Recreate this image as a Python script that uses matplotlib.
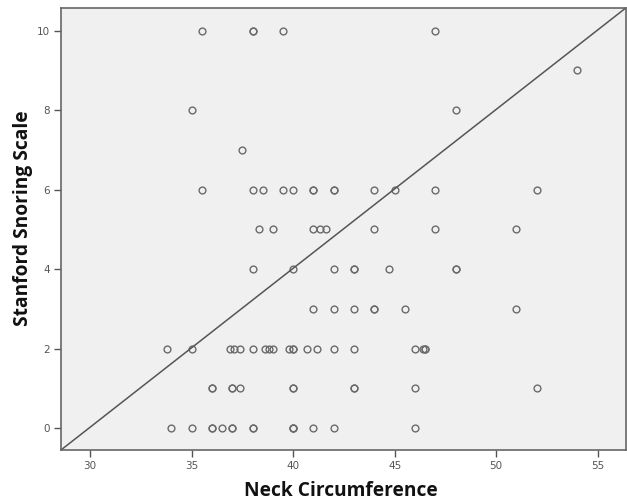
import numpy as np
import matplotlib
matplotlib.use("Agg")
import matplotlib.pyplot as plt

# neck circumference (cm) and Stanford snoring scale
neck_10 = [35.5, 38, 38, 39.5, 47]
neck_9 = [54]
neck_8 = [35, 48]
neck_7 = [37.5]
neck_6 = [35.5, 38, 38.5, 39.5, 40, 41, 41, 42, 42, 44, 45, 47, 52]
neck_5 = [38.3, 39, 41, 41.3, 41.6, 44, 47, 51]
neck_4 = [38, 40, 42, 43, 43, 44.7, 48, 48]
neck_3 = [41, 42, 43, 44, 44, 45.5, 51]
neck_2 = [33.8, 35, 36.9, 37.1, 37.4, 38, 38.6, 38.8, 39, 39.8, 40, 40,
          40.7, 41.2, 42, 43, 46, 46.4, 46.5, 46.5]
neck_1 = [36, 36, 37, 37, 37.4, 40, 40, 43, 43, 46, 52]
neck_0 = [34, 35, 36, 36, 36.5, 37, 37, 38, 38, 40, 40, 40, 41, 42, 46]

rows = {10: neck_10, 9: neck_9, 8: neck_8, 7: neck_7, 6: neck_6, 5: neck_5,
        4: neck_4, 3: neck_3, 2: neck_2, 1: neck_1, 0: neck_0}
neck = np.concatenate([np.array(v, float) for v in rows.values()])
snore = np.concatenate([np.full(len(v), k, float) for k, v in rows.items()])

xticks = [30, 35, 40, 45, 50, 55]
yticks = [0, 2, 4, 6, 8, 10]
xlim = (28.57, 56.38)
ylim = (-0.55, 10.57)

fig = plt.figure(figsize=(6.27, 5.03), dpi=100)
ax = fig.add_axes([0.0973, 0.1054, 0.9007, 0.8787])
ax.set_facecolor("#f0f0f0")

ax.plot(neck, snore, linestyle="none", marker="o", markersize=4.9,
        markerfacecolor="none", markeredgecolor="#6a6a6a", markeredgewidth=1.0)

# reference line, corner to corner
ax.plot(xlim, ylim, color="#555555", linewidth=1.1)

ax.set_xlim(xlim)
ax.set_ylim(ylim)
ax.set_xticks(xticks)
ax.set_yticks(yticks)
ax.tick_params(axis="both", direction="out", length=5, width=1, color="#555555",
               labelsize=7.5, labelcolor="#555555", pad=3)
for s in ax.spines.values():
    s.set_color("#666666")
    s.set_linewidth(1.2)

lab = dict(fontfamily="Open Sans", fontweight="bold", fontsize=13.8, color="#111111")
fig.text(0.544, 0.014, "Neck Circumference", ha="center", va="baseline", **lab)
fig.text(0.037, 0.566, "Stanford Snoring Scale", ha="center", va="center",
         rotation=90, **lab)

fig.savefig("out.png", dpi=100)
